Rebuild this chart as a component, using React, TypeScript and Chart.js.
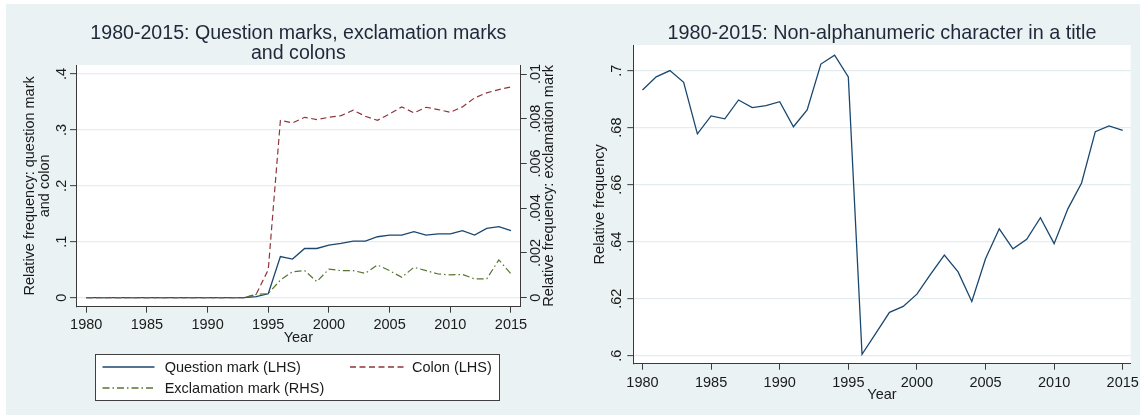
import React, { useEffect, useRef } from 'react';
import { Chart, registerables } from 'chart.js';

Chart.register(...registerables);

// ---------- data ----------
const years = [
  1980, 1981, 1982, 1983, 1984, 1985, 1986, 1987, 1988, 1989,
  1990, 1991, 1992, 1993, 1994, 1995, 1996, 1997, 1998, 1999,
  2000, 2001, 2002, 2003, 2004, 2005, 2006, 2007, 2008, 2009,
  2010, 2011, 2012, 2013, 2014, 2015,
];

// Left panel, LHS
const questionMark = [
  0, 0, 0, 0, 0, 0, 0, 0, 0, 0,
  0, 0, 0, 0, 0.002, 0.007, 0.0735, 0.069, 0.088, 0.088,
  0.094, 0.097, 0.101, 0.101, 0.109, 0.112, 0.112, 0.118, 0.112, 0.114,
  0.114, 0.12, 0.112, 0.124, 0.127, 0.12,
];
const colon = [
  0, 0, 0, 0, 0, 0, 0, 0, 0, 0,
  0, 0, 0, 0, 0.006, 0.05, 0.317, 0.3125, 0.3226, 0.3185,
  0.3226, 0.3256, 0.3352, 0.3244, 0.3172, 0.3287, 0.3412, 0.3305, 0.3405, 0.3364,
  0.3315, 0.3412, 0.3573, 0.3663, 0.3722, 0.377,
];
// Left panel, RHS
const exclamation = [
  0, 0, 0, 0, 0, 0, 0, 0, 0, 0,
  0, 0, 0, 0, 0.00015, 0.00018, 0.00079, 0.00116, 0.00121, 0.00072,
  0.00128, 0.00121, 0.00121, 0.00109, 0.00146, 0.00121, 0.00091, 0.00136, 0.00121, 0.00106,
  0.00102, 0.00104, 0.00084, 0.00084, 0.00169, 0.00106,
];
// Right panel
const nonAlpha = [
  0.6932, 0.6978, 0.7, 0.6959, 0.6778, 0.6841, 0.6831, 0.6897, 0.687, 0.6877,
  0.6891, 0.6803, 0.6862, 0.7023, 0.7054, 0.6978, 0.6005, 0.6078, 0.6152, 0.6173,
  0.6216, 0.6286, 0.6353, 0.6294, 0.619, 0.634, 0.6445, 0.6375, 0.6408, 0.6484,
  0.6393, 0.6515, 0.6606, 0.6786, 0.6806, 0.679,
];

const xTicks = [1980, 1985, 1990, 1995, 2000, 2005, 2010, 2015];
const xTickLabels = ['1980', '1985', '1990', '1995', '2000', '2005', '2010', '2015'];
const lhsTicks = [0, 0.1, 0.2, 0.3, 0.4];
const lhsTickLabels = ['0', '.1', '.2', '.3', '.4'];
const rhsTicks = [0, 0.002, 0.004, 0.006, 0.008, 0.01];
const rhsTickLabels = ['0', '.002', '.004', '.006', '.008', '.01'];
const naTicks = [0.6, 0.62, 0.64, 0.66, 0.68, 0.7];
const naTickLabels = ['.6', '.62', '.64', '.66', '.68', '.7'];

const leftTitle = ['1980-2015: Question marks, exclamation marks', 'and colons'];
const rightTitle = '1980-2015: Non-alphanumeric character in a title';
const lhsAxisTitle = ['Relative frequency: question mark', 'and colon'];
const rhsAxisTitle = 'Relative frequency: exclamation mark';
const naAxisTitle = 'Relative frequency';
const xAxisTitle = 'Year';
const legendLabels = ['Question mark (LHS)', 'Colon (LHS)', 'Exclamation mark (RHS)'];

// ---------- style ----------
const FONT = "'Liberation Sans', Arial, sans-serif";
const NAVY = '#1a476f';
const MAROON = '#90353b';
const GREEN = '#55752f';
const AXIS = '#3a3a3a';
const GRID = '#e3ecee';
const BG = '#eaf2f3';
const TITLE_COLOR = '#1e2838';
const TEXT = '#1a1a1a';
const DASH_COLON = [6, 3.5];
const DASH_EXCL = [7, 3, 1.5, 3];

function rotText(ctx: CanvasRenderingContext2D, text: string, baseX: number, cy: number) {
  ctx.save();
  ctx.translate(baseX, cy);
  ctx.rotate(-Math.PI / 2);
  ctx.textAlign = 'center';
  ctx.textBaseline = 'alphabetic';
  ctx.fillText(text, 0, 0);
  ctx.restore();
}

const whitePlot = {
  id: 'whitePlot',
  beforeDraw(chart: any) {
    const { ctx, chartArea: ca } = chart;
    ctx.save();
    ctx.fillStyle = '#ffffff';
    ctx.fillRect(ca.left, ca.top, ca.right - ca.left, ca.bottom - ca.top);
    ctx.restore();
  },
};

const leftText = {
  id: 'leftText',
  afterDraw(chart: any) {
    const { ctx, chartArea: ca } = chart;
    const sx = chart.scales.x;
    const sy = chart.scales.y;
    const sy1 = chart.scales.y1;
    const cx = (ca.left + ca.right) / 2;
    const cy = (ca.top + ca.bottom) / 2;
    ctx.save();
    // title
    ctx.fillStyle = TITLE_COLOR;
    ctx.font = `19.6px ${FONT}`;
    ctx.textAlign = 'center';
    ctx.textBaseline = 'alphabetic';
    ctx.fillText(leftTitle[0], cx, 38.5);
    ctx.fillText(leftTitle[1], cx, 59);
    // x ticks
    ctx.fillStyle = TEXT;
    ctx.font = `14.5px ${FONT}`;
    xTicks.forEach((v, i) => ctx.fillText(xTickLabels[i], sx.getPixelForValue(v), 329.3));
    ctx.fillText(xAxisTitle, cx, 341.5);
    // y ticks
    lhsTicks.forEach((v, i) => rotText(ctx, lhsTickLabels[i], 65.5, sy.getPixelForValue(v)));
    rhsTicks.forEach((v, i) => rotText(ctx, rhsTickLabels[i], 540, sy1.getPixelForValue(v)));
    // axis titles
    rotText(ctx, lhsAxisTitle[0], 34, cy);
    rotText(ctx, lhsAxisTitle[1], 48.6, cy);
    rotText(ctx, rhsAxisTitle, 553, cy);
    // legend
    const bx = 95, by = 354, bw = 404, bh = 46;
    ctx.fillStyle = '#ffffff';
    ctx.fillRect(bx, by, bw, bh);
    ctx.strokeStyle = '#404040';
    ctx.lineWidth = 1;
    ctx.strokeRect(bx + 0.5, by + 0.5, bw, bh);
    const samples = [
      { x1: 102.5, x2: 154.5, y: 367, color: NAVY, dash: [] as number[], tx: 164.7, ty: 371.5, label: legendLabels[0] },
      { x1: 350, x2: 403.6, y: 367, color: MAROON, dash: DASH_COLON, tx: 412, ty: 371.5, label: legendLabels[1] },
      { x1: 102.5, x2: 154.5, y: 388, color: GREEN, dash: DASH_EXCL, tx: 164.7, ty: 392.5, label: legendLabels[2] },
    ];
    samples.forEach((s) => {
      ctx.save();
      ctx.strokeStyle = s.color;
      ctx.lineWidth = 1.3;
      ctx.setLineDash(s.dash);
      ctx.beginPath();
      ctx.moveTo(s.x1, s.y);
      ctx.lineTo(s.x2, s.y);
      ctx.stroke();
      ctx.restore();
      ctx.fillStyle = TEXT;
      ctx.textAlign = 'left';
      ctx.fillText(s.label, s.tx, s.ty);
    });
    ctx.restore();
  },
};

const rightText = {
  id: 'rightText',
  afterDraw(chart: any) {
    const { ctx, chartArea: ca } = chart;
    const sx = chart.scales.x;
    const sy = chart.scales.y;
    const cx = (ca.left + ca.right) / 2;
    const cy = (ca.top + ca.bottom) / 2;
    ctx.save();
    ctx.fillStyle = TITLE_COLOR;
    ctx.font = `19.8px ${FONT}`;
    ctx.textAlign = 'center';
    ctx.textBaseline = 'alphabetic';
    ctx.fillText(rightTitle, cx, 38.5);
    ctx.fillStyle = TEXT;
    ctx.font = `14.5px ${FONT}`;
    xTicks.forEach((v, i) => ctx.fillText(xTickLabels[i], sx.getPixelForValue(v), 387.3));
    ctx.fillText(xAxisTitle, cx, 399);
    naTicks.forEach((v, i) => rotText(ctx, naTickLabels[i], 50.5, sy.getPixelForValue(v)));
    rotText(ctx, naAxisTitle, 34, cy);
    ctx.restore();
  },
};

const pts = (vals: number[]) => years.map((x, i) => ({ x, y: vals[i] }));

const setTicks = (vals: number[]) => (scale: any) => {
  scale.ticks = vals.map((v) => ({ value: v }));
};

export default function App() {
  const leftRef = useRef<HTMLCanvasElement>(null);
  const rightRef = useRef<HTMLCanvasElement>(null);

  useEffect(() => {
    const lhsPerUnit = 559.25;
    const leftChart = new Chart(leftRef.current as HTMLCanvasElement, {
      type: 'line',
      data: {
        datasets: [
          {
            label: legendLabels[0], data: pts(questionMark), borderColor: NAVY, borderWidth: 1.3,
            pointRadius: 0, tension: 0, yAxisID: 'y', order: 2,
          },
          {
            label: legendLabels[1], data: pts(colon), borderColor: MAROON, borderWidth: 1.2,
            borderDash: DASH_COLON, pointRadius: 0, tension: 0, yAxisID: 'y', order: 1,
          },
          {
            label: legendLabels[2], data: pts(exclamation), borderColor: GREEN, borderWidth: 1.2,
            borderDash: DASH_EXCL, pointRadius: 0, tension: 0, yAxisID: 'y1', order: 0,
          },
        ],
      },
      options: {
        animation: false,
        responsive: false,
        maintainAspectRatio: false,
        layout: { padding: { left: 0, right: 0, top: 65, bottom: 415 - 306.7 - 38.5 } },
        plugins: { legend: { display: false }, title: { display: false }, tooltip: { enabled: false } },
        scales: {
          x: {
            type: 'linear', position: 'bottom', min: 1979.16, max: 2015.8,
            afterBuildTicks: setTicks(xTicks),
            afterFit: (s: any) => { s.height = 38.5; },
            grid: { drawOnChartArea: false, tickLength: 6, tickColor: AXIS, tickWidth: 1 },
            border: { color: AXIS, width: 1 },
            ticks: { display: false },
          },
          y: {
            type: 'linear', position: 'left',
            min: -9 / lhsPerUnit, max: 0.4 + 9 / lhsPerUnit,
            afterBuildTicks: setTicks(lhsTicks),
            afterFit: (s: any) => { s.width = 76; },
            grid: { color: GRID, lineWidth: 1.3, tickColor: AXIS, tickLength: 6, tickWidth: 1 },
            border: { color: AXIS, width: 1 },
            ticks: { display: false },
          },
          y1: {
            type: 'linear', position: 'right',
            min: -9 / lhsPerUnit / 40, max: (0.4 + 9 / lhsPerUnit) / 40,
            afterBuildTicks: setTicks(rhsTicks),
            afterFit: (s: any) => { s.width = 570 - 520.7; },
            grid: { drawOnChartArea: false, tickColor: AXIS, tickLength: 6, tickWidth: 1 },
            border: { color: AXIS, width: 1 },
            ticks: { display: false },
          },
        },
      },
      plugins: [whitePlot, leftText],
    } as any);

    const naPerUnit = 2849;
    const rightChart = new Chart(rightRef.current as HTMLCanvasElement, {
      type: 'line',
      data: {
        datasets: [
          {
            label: naAxisTitle, data: pts(nonAlpha), borderColor: NAVY, borderWidth: 1.3,
            pointRadius: 0, tension: 0,
          },
        ],
      },
      options: {
        animation: false,
        responsive: false,
        maintainAspectRatio: false,
        layout: { padding: { left: 0, right: 570 - 560.7, top: 45, bottom: 415 - 363.7 - 39.3 } },
        plugins: { legend: { display: false }, title: { display: false }, tooltip: { enabled: false } },
        scales: {
          x: {
            type: 'linear', position: 'bottom', min: 1979.33, max: 2015.58,
            afterBuildTicks: setTicks(xTicks),
            afterFit: (s: any) => { s.height = 39.3; },
            grid: { drawOnChartArea: false, tickLength: 6, tickColor: AXIS, tickWidth: 1 },
            border: { color: AXIS, width: 1 },
            ticks: { display: false },
          },
          y: {
            type: 'linear', position: 'left',
            min: 0.6 - 8 / naPerUnit, max: 0.7 + 25.6 / naPerUnit,
            afterBuildTicks: setTicks(naTicks),
            afterFit: (s: any) => { s.width = 63.3; },
            grid: { color: GRID, lineWidth: 1.3, tickColor: AXIS, tickLength: 6, tickWidth: 1 },
            border: { color: AXIS, width: 1 },
            ticks: { display: false },
          },
        },
      },
      plugins: [whitePlot, rightText],
    } as any);

    return () => {
      leftChart.destroy();
      rightChart.destroy();
    };
  }, []);

  return (
    <div style={{ position: 'absolute', left: 0, top: 0, width: 1140, height: 415, background: '#ffffff', overflow: 'hidden' }}>
      <div style={{ position: 'absolute', left: 6, top: 4, width: 1134, height: 411, background: BG }} />
      <canvas ref={leftRef} width={570} height={415} style={{ position: 'absolute', left: 0, top: 0, width: 570, height: 415 }} />
      <canvas ref={rightRef} width={570} height={415} style={{ position: 'absolute', left: 570, top: 0, width: 570, height: 415 }} />
    </div>
  );
}
